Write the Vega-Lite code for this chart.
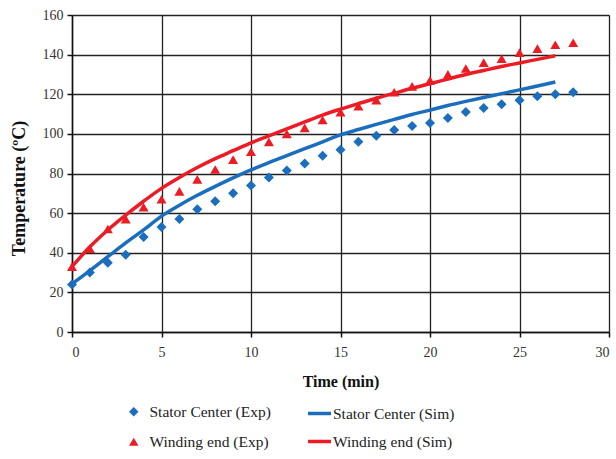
{
  "$schema": "https://vega.github.io/schema/vega-lite/v6.json",
  "width": 537,
  "height": 317,
  "autosize": {"type": "none"},
  "padding": {"left": 72, "top": 15, "right": 7, "bottom": 127},
  "background": "white",
  "config": {
    "view": {"stroke": null},
    "font": "Liberation Serif",
    "axis": {
      "labelFont": "Liberation Serif",
      "titleFont": "Liberation Serif",
      "labelFontSize": 14,
      "titleFontSize": 16,
      "titleFontWeight": "bold",
      "labelColor": "#333333",
      "titleColor": "#111111",
      "domainColor": "#111111",
      "domainWidth": 1.5,
      "tickColor": "#111111",
      "tickWidth": 1.5,
      "tickSize": 5,
      "gridColor": "#222222",
      "gridWidth": 1.3,
      "gridOpacity": 1
    },
    "legend": {
      "labelFont": "Liberation Serif",
      "labelFontSize": 15.5,
      "labelColor": "#222222",
      "labelLimit": 300
    }
  },
  "data": {
    "values": [
      {"t": 0, "v": 24, "exp": "Stator Center (Exp)"},
      {"t": 1, "v": 30, "exp": "Stator Center (Exp)"},
      {"t": 2, "v": 35, "exp": "Stator Center (Exp)"},
      {"t": 3, "v": 39, "exp": "Stator Center (Exp)"},
      {"t": 4, "v": 48, "exp": "Stator Center (Exp)"},
      {"t": 5, "v": 53, "exp": "Stator Center (Exp)"},
      {"t": 6, "v": 57, "exp": "Stator Center (Exp)"},
      {"t": 7, "v": 62, "exp": "Stator Center (Exp)"},
      {"t": 8, "v": 66, "exp": "Stator Center (Exp)"},
      {"t": 9, "v": 70, "exp": "Stator Center (Exp)"},
      {"t": 10, "v": 74, "exp": "Stator Center (Exp)"},
      {"t": 11, "v": 78, "exp": "Stator Center (Exp)"},
      {"t": 12, "v": 81.5, "exp": "Stator Center (Exp)"},
      {"t": 13, "v": 85, "exp": "Stator Center (Exp)"},
      {"t": 14, "v": 89, "exp": "Stator Center (Exp)"},
      {"t": 15, "v": 92, "exp": "Stator Center (Exp)"},
      {"t": 16, "v": 96, "exp": "Stator Center (Exp)"},
      {"t": 17, "v": 99, "exp": "Stator Center (Exp)"},
      {"t": 18, "v": 102, "exp": "Stator Center (Exp)"},
      {"t": 19, "v": 104, "exp": "Stator Center (Exp)"},
      {"t": 20, "v": 105.5, "exp": "Stator Center (Exp)"},
      {"t": 21, "v": 108, "exp": "Stator Center (Exp)"},
      {"t": 22, "v": 111, "exp": "Stator Center (Exp)"},
      {"t": 23, "v": 113, "exp": "Stator Center (Exp)"},
      {"t": 24, "v": 115, "exp": "Stator Center (Exp)"},
      {"t": 25, "v": 117, "exp": "Stator Center (Exp)"},
      {"t": 26, "v": 119, "exp": "Stator Center (Exp)"},
      {"t": 27, "v": 120, "exp": "Stator Center (Exp)"},
      {"t": 28, "v": 121, "exp": "Stator Center (Exp)"},
      {"t": 0, "v": 33, "exp": "Winding end (Exp)"},
      {"t": 1, "v": 42, "exp": "Winding end (Exp)"},
      {"t": 2, "v": 52, "exp": "Winding end (Exp)"},
      {"t": 3, "v": 57, "exp": "Winding end (Exp)"},
      {"t": 4, "v": 63, "exp": "Winding end (Exp)"},
      {"t": 5, "v": 67, "exp": "Winding end (Exp)"},
      {"t": 6, "v": 71, "exp": "Winding end (Exp)"},
      {"t": 7, "v": 77, "exp": "Winding end (Exp)"},
      {"t": 8, "v": 82, "exp": "Winding end (Exp)"},
      {"t": 9, "v": 87, "exp": "Winding end (Exp)"},
      {"t": 10, "v": 91, "exp": "Winding end (Exp)"},
      {"t": 11, "v": 96, "exp": "Winding end (Exp)"},
      {"t": 12, "v": 100, "exp": "Winding end (Exp)"},
      {"t": 13, "v": 103, "exp": "Winding end (Exp)"},
      {"t": 14, "v": 107, "exp": "Winding end (Exp)"},
      {"t": 15, "v": 111, "exp": "Winding end (Exp)"},
      {"t": 16, "v": 114, "exp": "Winding end (Exp)"},
      {"t": 17, "v": 117, "exp": "Winding end (Exp)"},
      {"t": 18, "v": 121, "exp": "Winding end (Exp)"},
      {"t": 19, "v": 124, "exp": "Winding end (Exp)"},
      {"t": 20, "v": 127, "exp": "Winding end (Exp)"},
      {"t": 21, "v": 130, "exp": "Winding end (Exp)"},
      {"t": 22, "v": 133, "exp": "Winding end (Exp)"},
      {"t": 23, "v": 136, "exp": "Winding end (Exp)"},
      {"t": 24, "v": 138, "exp": "Winding end (Exp)"},
      {"t": 25, "v": 141, "exp": "Winding end (Exp)"},
      {"t": 26, "v": 143, "exp": "Winding end (Exp)"},
      {"t": 27, "v": 145, "exp": "Winding end (Exp)"},
      {"t": 28, "v": 146, "exp": "Winding end (Exp)"},
      {"t": 0, "v": 24.3, "sim": "Stator Center (Sim)"},
      {"t": 1, "v": 31, "sim": "Stator Center (Sim)"},
      {"t": 2, "v": 38, "sim": "Stator Center (Sim)"},
      {"t": 3, "v": 45, "sim": "Stator Center (Sim)"},
      {"t": 4, "v": 51.5, "sim": "Stator Center (Sim)"},
      {"t": 5, "v": 58.5, "sim": "Stator Center (Sim)"},
      {"t": 6, "v": 64, "sim": "Stator Center (Sim)"},
      {"t": 7, "v": 69, "sim": "Stator Center (Sim)"},
      {"t": 8, "v": 73.5, "sim": "Stator Center (Sim)"},
      {"t": 9, "v": 77.8, "sim": "Stator Center (Sim)"},
      {"t": 10, "v": 81.8, "sim": "Stator Center (Sim)"},
      {"t": 11, "v": 85.5, "sim": "Stator Center (Sim)"},
      {"t": 12, "v": 89, "sim": "Stator Center (Sim)"},
      {"t": 13, "v": 92.5, "sim": "Stator Center (Sim)"},
      {"t": 14, "v": 96, "sim": "Stator Center (Sim)"},
      {"t": 15, "v": 99.5, "sim": "Stator Center (Sim)"},
      {"t": 16, "v": 102.2, "sim": "Stator Center (Sim)"},
      {"t": 17, "v": 104.8, "sim": "Stator Center (Sim)"},
      {"t": 18, "v": 107.3, "sim": "Stator Center (Sim)"},
      {"t": 19, "v": 109.8, "sim": "Stator Center (Sim)"},
      {"t": 20, "v": 112, "sim": "Stator Center (Sim)"},
      {"t": 21, "v": 114.3, "sim": "Stator Center (Sim)"},
      {"t": 22, "v": 116.4, "sim": "Stator Center (Sim)"},
      {"t": 23, "v": 118.4, "sim": "Stator Center (Sim)"},
      {"t": 24, "v": 120.3, "sim": "Stator Center (Sim)"},
      {"t": 25, "v": 122.2, "sim": "Stator Center (Sim)"},
      {"t": 26, "v": 124.2, "sim": "Stator Center (Sim)"},
      {"t": 27, "v": 126.2, "sim": "Stator Center (Sim)"},
      {"t": 0, "v": 33, "sim": "Winding end (Sim)"},
      {"t": 1, "v": 43, "sim": "Winding end (Sim)"},
      {"t": 2, "v": 51.5, "sim": "Winding end (Sim)"},
      {"t": 3, "v": 59, "sim": "Winding end (Sim)"},
      {"t": 4, "v": 66, "sim": "Winding end (Sim)"},
      {"t": 5, "v": 72.5, "sim": "Winding end (Sim)"},
      {"t": 6, "v": 78, "sim": "Winding end (Sim)"},
      {"t": 7, "v": 83, "sim": "Winding end (Sim)"},
      {"t": 8, "v": 87.5, "sim": "Winding end (Sim)"},
      {"t": 9, "v": 91.5, "sim": "Winding end (Sim)"},
      {"t": 10, "v": 95.5, "sim": "Winding end (Sim)"},
      {"t": 11, "v": 99, "sim": "Winding end (Sim)"},
      {"t": 12, "v": 102.5, "sim": "Winding end (Sim)"},
      {"t": 13, "v": 106, "sim": "Winding end (Sim)"},
      {"t": 14, "v": 109.5, "sim": "Winding end (Sim)"},
      {"t": 15, "v": 112.5, "sim": "Winding end (Sim)"},
      {"t": 16, "v": 115.3, "sim": "Winding end (Sim)"},
      {"t": 17, "v": 118, "sim": "Winding end (Sim)"},
      {"t": 18, "v": 120.5, "sim": "Winding end (Sim)"},
      {"t": 19, "v": 123, "sim": "Winding end (Sim)"},
      {"t": 20, "v": 125.3, "sim": "Winding end (Sim)"},
      {"t": 21, "v": 127.7, "sim": "Winding end (Sim)"},
      {"t": 22, "v": 130, "sim": "Winding end (Sim)"},
      {"t": 23, "v": 132, "sim": "Winding end (Sim)"},
      {"t": 24, "v": 134, "sim": "Winding end (Sim)"},
      {"t": 25, "v": 135.8, "sim": "Winding end (Sim)"},
      {"t": 26, "v": 137.6, "sim": "Winding end (Sim)"},
      {"t": 27, "v": 139.4, "sim": "Winding end (Sim)"}
    ]
  },
  "encoding": {
    "x": {
      "field": "t", "type": "quantitative",
      "scale": {"domain": [0, 30], "nice": false},
      "axis": {"title": "Time (min)", "values": [0, 5, 10, 15, 20, 25, 30], "labelPadding": 8, "titlePadding": 14}
    },
    "y": {
      "field": "v", "type": "quantitative",
      "scale": {"domain": [0, 160], "nice": false},
      "axis": {"title": "Temperature (ºC)", "titleFontSize": 18, "values": [0, 20, 40, 60, 80, 100, 120, 140, 160], "labelPadding": 4, "titlePadding": 14, "titleY": 173}
    }
  },
  "layer": [
    {
      "transform": [{"filter": "isValid(datum.exp)"}],
      "mark": {"type": "point", "filled": true, "opacity": 1, "size": 100},
      "encoding": {
        "color": {
          "field": "exp", "type": "nominal",
          "scale": {"domain": ["Stator Center (Exp)", "Winding end (Exp)"], "range": ["#1b6ebd", "#ed1c24"]},
          "legend": {
            "title": null,
            "orient": "none",
            "legendX": 54,
            "legendY": 389,
            "rowPadding": 13,
            "symbolSize": 90,
            "labelOffset": 8
          }
        },
        "shape": {
          "field": "exp", "type": "nominal",
          "scale": {"domain": ["Stator Center (Exp)", "Winding end (Exp)"], "range": ["diamond", "triangle-up"]},
          "legend": {
            "title": null,
            "orient": "none",
            "legendX": 54,
            "legendY": 389,
            "rowPadding": 13,
            "symbolSize": 90,
            "labelOffset": 8
          }
        }
      }
    },
    {
      "transform": [{"filter": "isValid(datum.sim)"}],
      "mark": {"type": "line", "strokeWidth": 3.5, "interpolate": "monotone"},
      "encoding": {
        "stroke": {
          "field": "sim", "type": "nominal",
          "scale": {"domain": ["Stator Center (Sim)", "Winding end (Sim)"], "range": ["#1b6ebd", "#ed1c24"]},
          "legend": {
            "title": null,
            "orient": "none",
            "legendX": 234,
            "legendY": 385,
            "rowPadding": 6,
            "symbolType": "stroke",
            "symbolSize": 529,
            "symbolStrokeWidth": 3.5,
            "labelOffset": 0
          }
        }
      }
    }
  ]
}
